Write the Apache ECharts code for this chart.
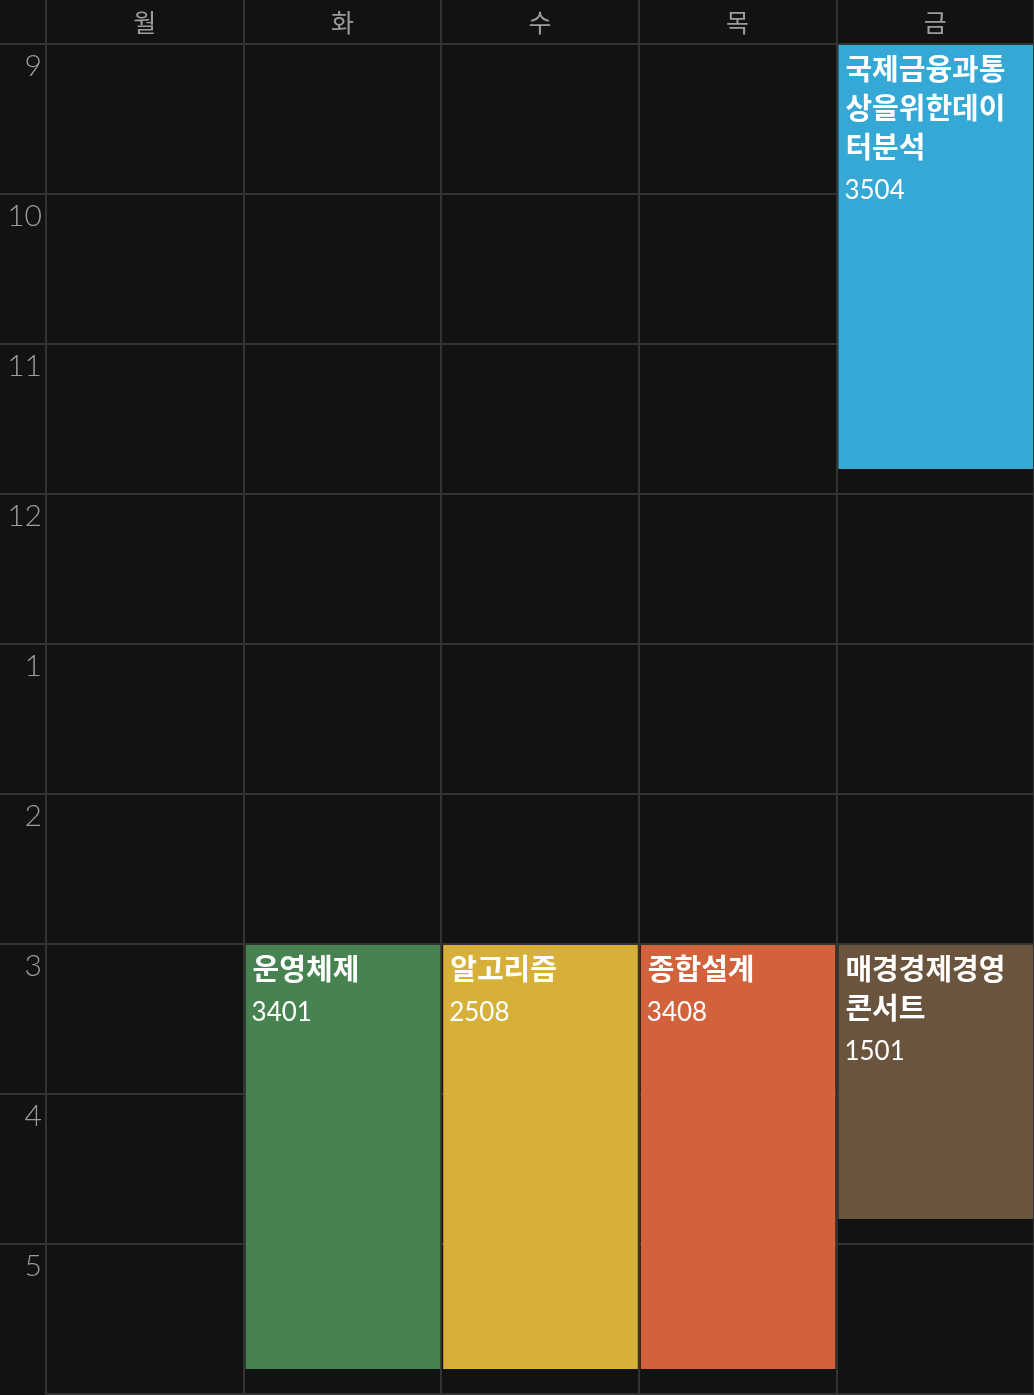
<!DOCTYPE html>
<html>
<head>
<meta charset="utf-8">
<script src="https://cdn.jsdelivr.net/npm/echarts@6/dist/echarts.min.js"></script>
<style>
  html, body { margin: 0; padding: 0; background: #121212; }
  #main { width: 1034px; height: 1395px; }
</style>
</head>
<body>
<div id="main"></div>
<script>
// days of week (columns)
const days = ['월', '화', '수', '목', '금'];
// hour rows, 24h clock
const hourMin = 9;
const hourMax = 18;

// courses
const courseNames = ['국제금융과통상을위한데이터분석', '운영체제', '알고리즘', '종합설계', '매경경제경영콘서트'];
const courseRooms = ['3504', '3401', '2508', '3408', '1501'];
const courseDay = [4, 1, 2, 3, 4];
const courseStart = [9, 15, 15, 15, 15];
const courseEnd = [11 + 50 / 60, 17 + 50 / 60, 17 + 50 / 60, 17 + 50 / 60, 16 + 50 / 60];

const palette = ['#35a8d5', '#478350', '#d6b039', '#d2623c', '#6b543e'];

const chartDom = document.getElementById('main');
const myChart = echarts.init(chartDom);

const lineColor = '#333333';
const titleFont = 'bold 29px "Noto Sans CJK KR"';
const titleWidth = 182;
const titleLH = 39;

// count how many lines the course title wraps to
const measureCtx = document.createElement('canvas').getContext('2d');
function countLines(str) {
  measureCtx.font = titleFont;
  let lines = 1, cur = '';
  for (const ch of str) {
    if (measureCtx.measureText(cur + ch).width > titleWidth && cur) {
      lines++;
      cur = ch;
    } else {
      cur += ch;
    }
  }
  return lines;
}

const option = {
  backgroundColor: '#121212',
  animation: false,
  grid: { left: 46, right: 0, top: 44, bottom: 1 },
  xAxis: {
    type: 'category',
    position: 'top',
    data: days,
    boundaryGap: true,
    axisLine: { show: true, lineStyle: { color: lineColor, width: 2 } },
    axisTick: { show: true, length: 44, inside: false, lineStyle: { color: lineColor, width: 2 } },
    axisLabel: {
      color: '#9c9c9c',
      fontSize: 25,
      fontFamily: '"Noto Sans CJK KR"',
      margin: 9
    },
    splitLine: { show: true, lineStyle: { color: lineColor, width: 2 } }
  },
  yAxis: {
    type: 'value',
    inverse: true,
    min: hourMin,
    max: hourMax,
    interval: 1,
    axisLine: { show: true, lineStyle: { color: lineColor, width: 2 } },
    axisTick: { show: true, length: 46, inside: false, lineStyle: { color: lineColor, width: 2 } },
    axisLabel: {
      color: '#9c9c9c',
      fontSize: 30,
      fontFamily: 'Lato',
      fontWeight: 300,
      verticalAlign: 'top',
      lineHeight: 44,
      margin: 4,
      showMaxLabel: false,
      formatter: (v) => (v >= hourMax ? '' : String(v > 12 ? v - 12 : v))
    },
    splitLine: { show: true, lineStyle: { color: lineColor, width: 2 } }
  },
  series: [
    {
      type: 'custom',
      data: courseNames.map((n, i) => [courseDay[i], courseStart[i], courseEnd[i], i]),
      encode: { x: 0, y: [1, 2] },
      renderItem: (params, api) => {
        const idx = api.value(3);
        const top = api.coord([api.value(0), api.value(1)]);
        const bottom = api.coord([api.value(0), api.value(2)]);
        const bw = api.size([1, 0])[0];
        const x0 = top[0] - bw / 2 + 2;
        const y0 = top[1] + 1;
        const nLines = countLines(courseNames[idx]);
        return {
          type: 'group',
          children: [
            {
              type: 'rect',
              shape: { x: x0, y: y0, width: bw - 3, height: bottom[1] - top[1] - 1 },
              style: { fill: palette[idx] }
            },
            {
              type: 'text',
              x: x0 + 7,
              y: y0 + 4,
              style: {
                text: courseNames[idx],
                width: titleWidth,
                overflow: 'break',
                font: titleFont,
                lineHeight: titleLH,
                fill: '#ffffff'
              }
            },
            {
              type: 'text',
              x: x0 + 6,
              y: y0 + 4 + nLines * titleLH,
              style: {
                text: courseRooms[idx],
                fontFamily: 'Lato',
                fontSize: 26,
                lineHeight: 50,
                fill: '#ffffff'
              }
            }
          ]
        };
      }
    }
  ]
};

myChart.setOption(option);
</script>
</body>
</html>
